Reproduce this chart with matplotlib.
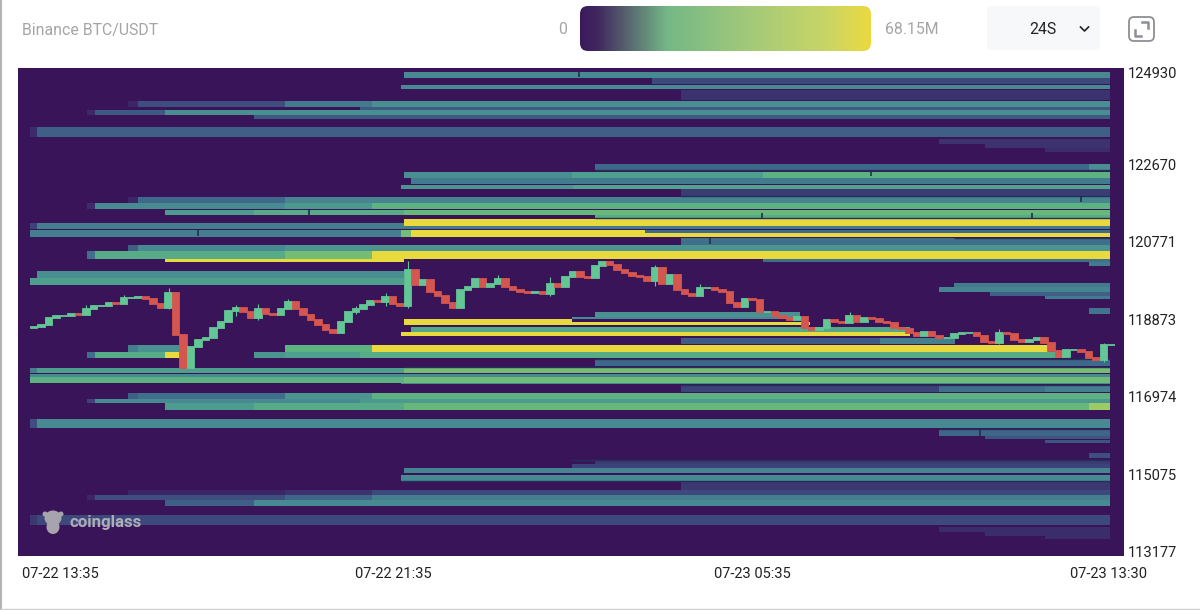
import numpy as np
import matplotlib
matplotlib.use("Agg")
import matplotlib.pyplot as plt
from matplotlib.colors import LinearSegmentedColormap, Normalize
from matplotlib.patches import FancyBboxPatch, Ellipse
from matplotlib.transforms import ScaledTranslation

plt.rcParams["font.family"] = ["Roboto", "DejaVu Sans"]

# liquidation bands: price edges, start hours (since 07-22 13:35), value in M from that hour on
band_top = [
    124930, 124783, 124611, 124489, 124220, 124073, 124000, 123877, 123583, 123289, 123166, 123068,
    122677, 122481, 122334, 122162, 122064, 121869, 121722, 121550, 121428, 121330, 121232, 121158,
    121060, 120987, 120864, 120693, 120546, 120350, 120277, 120056, 119885, 119762, 119664, 119542,
    119444, 119150, 119052, 118930, 118881, 118807, 118685, 118563, 118416, 118245, 118073, 117877,
    117681, 117534, 117460, 117313, 117264, 117068, 116921, 116823, 116432, 116162, 116015, 115917,
    115599, 115427, 115330, 115231, 115060, 114889, 114693, 114570, 114448, 114081, 113787, 113665, 113567,
]
band_bottom = [
    124795, 124636, 124513, 124244, 124073, 124000, 123877, 123779, 123338, 123166, 123068, 122971,
    122530, 122334, 122187, 122064, 121893, 121722, 121575, 121428, 121354, 121158, 121085, 121085,
    120987, 120889, 120693, 120546, 120350, 120277, 120179, 119885, 119713, 119664, 119542, 119444,
    119370, 119003, 118930, 118881, 118807, 118734, 118563, 118465, 118270, 118073, 117926, 117730,
    117558, 117460, 117313, 117277, 117093, 116921, 116823, 116652, 116211, 116015, 115942, 115844,
    115476, 115330, 115231, 115109, 114913, 114693, 114570, 114448, 114301, 113836, 113665, 113567, 113493,
]
band_start = [
    [8.24], [13.76], [8.17], [14.41], [2.09, 2.32, 5.59, 7.53], [7.26], [1.18, 1.36, 2.92], [4.90],
    [-0.09, 0.07], [20.16], [21.18], [22.52],
    [12.49, 23.50], [8.24, 11.98, 16.24], [8.40], [8.17, 12.0], [14.41],
    [2.09, 2.32, 5.59], [1.18, 1.36, 5.59, 7.53], [2.92, 4.90, 8.24], [12.49], [8.24],
    [-0.09, 0.07, 8.24], [8.24],
    [-0.09, 8.17, 8.40, 13.61], [-0.09, 8.17, 8.40], [14.41], [2.09, 2.32, 5.59],
    [1.18, 1.36, 5.59, 7.53], [2.92, 8.24, 16.24], [23.50], [0.07, 8.24], [-0.09, 8.24],
    [20.49], [20.16], [21.29], [22.52], [23.50],
    [12.49, 17.06], [11.98, 17.06], [8.24, 11.98], [8.24, 17.28], [8.40, 19.51], [8.17, 19.51],
    [14.41, 18.84, 20.51], [2.09, 2.32, 3.30, 5.59, 7.53, 22.58],
    [1.18, 1.36, 2.92, 3.36, 4.90, 5.59, 7.26, 22.96], [12.49],
    [-0.09, 0.07, 8.24], [-0.09], [-0.09, 8.24], [8.17], [14.41, 20.16, 22.52],
    [2.09, 2.32, 5.59, 7.53], [1.18, 1.36, 7.26], [2.92, 4.90, 8.24, 23.50], [-0.09, 0.07],
    [20.16], [21.18], [22.52], [23.50],
    [12.49], [11.98], [8.24], [8.17], [14.41], [2.09, 5.59, 7.53], [1.18, 1.36, 5.59, 7.53],
    [2.92, 4.90], [-0.09, 0.07], [20.16], [21.18], [22.52],
]
band_value = [
    [27], [15], [27], [11], [8, 16, 24, 28], [18], [9, 18, 28], [18],
    [10, 19], [11], [11], [10],
    [21, 28], [28, 33, 38], [24], [30, 34], [13],
    [8, 21, 26], [10, 27, 31, 38], [32, 36, 40], [36], [62],
    [14, 25, 0], [24],
    [25, 42, 63, 21], [25, 42, 63], [22], [19, 27, 30],
    [22, 36, 42, 62], [60, 0, 22], [24], [28, 0], [33, 0],
    [24], [26], [19], [24], [23],
    [29, 0], [27, 0], [60, 0], [60, 0], [35, 0], [60, 0],
    [18, 25, 0], [25, 29, 0, 38, 62, 0],
    [22, 36, 60, 0, 30, 33, 36, 0], [21],
    [25, 33, 42], [27], [38, 41], [27], [14, 22, 25],
    [19, 22, 30, 38], [14, 27, 31], [32, 36, 40, 48], [16, 27],
    [20], [17], [17], [16],
    [13], [14], [26], [27], [12], [8, 11, 15], [8, 16, 20, 25],
    [19, 27], [12, 15], [10], [10], [10],
]

# thin dark lines between bands
divider_price = [122530, 121893, 121354, 120864, 117901, 117705, 117265, 116187, 115440, 114915]
divider_start = [12.49, 14.41, 12.49, 20.49, 12.49, 8.24, 14.41, 20.16, 11.98, 8.17]

# little dark notches where a level was hit
notch_hour = [12.14, 18.64, 23.32, 22.23, 3.65, 6.12, 16.21, 15.06, 21.07]
notch_price = [124881, 122456, 121820, 121403, 120987, 121484, 121403, 120791, 116089]

# 10 minute closes
closes = [
    118685, 118734, 118905, 118954, 118954, 119003, 118979, 119126, 119199, 119199,
    119273, 119248, 119395, 119395, 119420, 119370, 119248, 119150, 119517, 118489,
    117681, 118195, 118367, 118416, 118660, 118807, 119077, 119150, 119052, 118905,
    119126, 119003, 118979, 119126, 119297, 119126, 118979, 118856, 118734, 118612,
    118538, 118807, 119052, 119126, 119224, 119322, 119297, 119420, 119248, 119199,
    120081, 119713, 119836, 119542, 119444, 119273, 119150, 119591, 119664, 119861,
    119664, 119738, 119861, 119664, 119591, 119542, 119517, 119542, 119493, 119738,
    119664, 119910, 120032, 119910, 119885, 120179, 120277, 120204, 120081, 120007,
    119934, 119910, 119812, 120130, 119738, 119959, 119591, 119493, 119444, 119640,
    119640, 119591, 119542, 119273, 119175, 119370, 119346, 119052, 119052, 118954,
    118905, 118856, 118930, 118660, 118612, 118660, 118856, 118807, 118783, 118954,
    118807, 118905, 118881, 118807, 118783, 118660, 118636, 118538, 118465, 118563,
    118465, 118416, 118416, 118513, 118538, 118538, 118465, 118318, 118293, 118538,
    118513, 118367, 118318, 118367, 118416, 118293, 118097, 117950, 118122, 118122,
    118073, 117926, 117877, 118245, 118245,
]
first_open = 118660

wick_idx = [7, 12, 18, 27, 30, 34, 43, 47, 50, 62, 69, 83, 89, 109, 129, 143]
wick_high = [119230, 119470, 119640, 119230, 119250, 119380, 119200, 119520, 120300,
             119950, 119900, 120200, 119750, 119050, 118640, 118300]
wick_low = [119040, 119300, 119130, 118950, 118850, 119200, 119000, 119190, 119150,
            119790, 119450, 119700, 119500, 118830, 118260, 117830]

price_ticks = [124930, 122670, 120771, 118873, 116974, 115075, 113177]
time_ticks = [0, 8, 16, 23.92]
time_labels = ["07-22 13:35", "07-22 21:35", "07-23 05:35", "07-23 13:30"]

PURPLE = "#3a1458"
END_HOUR = 23.96
MAX_VALUE = 68.15

heat_cmap = LinearSegmentedColormap.from_list("heat", [
    (0 / MAX_VALUE, PURPLE),
    (10 / MAX_VALUE, "#3b2c6c"),
    (16 / MAX_VALUE, "#3e4f7f"),
    (21 / MAX_VALUE, "#3f6a8a"),
    (27 / MAX_VALUE, "#488a92"),
    (33 / MAX_VALUE, "#4f9f8e"),
    (38 / MAX_VALUE, "#5cb381"),
    (48 / MAX_VALUE, "#9ccb63"),
    (60 / MAX_VALUE, "#e8d93f"),
    (1, "#e8d93f"),
])
norm = Normalize(0, MAX_VALUE)

bar_cmap = LinearSegmentedColormap.from_list("bar", [
    (0, "#3a1a5c"), (0.06, "#41285f"), (0.3, "#74b886"), (0.6, "#a6ca78"), (0.85, "#c9d566"), (1, "#ecd93f"),
])

fig = plt.figure(figsize=(12, 6.1), dpi=100, facecolor="white")

# main heatmap area
ax = fig.add_axes([18 / 1200, 1 - 556 / 610, (1124 - 18) / 1200, 488 / 610], facecolor=PURPLE)

for top, bottom, starts, values in zip(band_top, band_bottom, band_start, band_value):
    ends = starts[1:] + [END_HOUR]
    for s, e, v in zip(starts, ends, values):
        if v == 0:
            continue
        ax.barh((top + bottom) / 2, e - s, left=s, height=top - bottom,
                color=heat_cmap(norm(v)), linewidth=0, zorder=2)

ax.hlines(divider_price, divider_start, END_HOUR, colors="#22305a", linewidth=1, zorder=2.5)
ax.vlines(notch_hour, np.array(notch_price) - 75, np.array(notch_price) + 75,
          colors="#1f2f50", linewidth=1.2, zorder=2.5)

# candles
closes = np.array(closes)
opens = np.concatenate([[first_open], closes[:-1]])
hours = np.arange(len(closes)) / 6
colors = np.where(closes >= opens, "#63c795", "#d5564f")
ax.vlines(hours[wick_idx], wick_low, wick_high, colors=colors[wick_idx], linewidth=0.8, zorder=3)
ax.bar(hours, np.abs(closes - opens), bottom=np.minimum(opens, closes), width=0.145,
       color=colors, linewidth=1.3, edgecolor=colors, zorder=4)

ax.set_xlim(-0.356, 24.276)
ax.set_ylim(113077, 125028)
ax.yaxis.tick_right()
ax.set_yticks(price_ticks)
ax.set_yticklabels([str(p) for p in price_ticks])
ax.set_xticks(time_ticks)
ax.set_xticklabels(time_labels)
ax.tick_params(axis="both", length=0, labelsize=10.5, labelcolor="#222222")
ax.tick_params(axis="y", pad=3)
ax.tick_params(axis="x", pad=8)
first_label = ax.get_xticklabels()[0]
first_label.set_ha("left")
first_label.set_transform(first_label.get_transform() + ScaledTranslation(-12 / 100, 0, fig.dpi_scale_trans))
for sp in ax.spines.values():
    sp.set_visible(False)

# page chrome in pixel coordinates
page = fig.add_axes([0, 0, 1, 1], zorder=5)
page.patch.set_alpha(0)

bar_box = FancyBboxPatch((580, 6), 291, 45, boxstyle="round,pad=0,rounding_size=8",
                         linewidth=0, facecolor="none")
page.add_patch(bar_box)
gradient = np.linspace(0, 1, 256).reshape(1, -1)
im = page.imshow(gradient, extent=[580, 871, 51, 6], cmap=bar_cmap, aspect="auto", zorder=1)
im.set_clip_path(bar_box)
page.set_xlim(0, 1200)
page.set_ylim(610, 0)
page.axis("off")

page.plot([0.5, 0.5], [0, 610], color="#b5b5b5", linewidth=1.5)
page.plot([0, 1200], [609, 609], color="#cfcfcf", linewidth=1)

page.text(22, 30, "Binance BTC/USDT", fontsize=11.4, color="#a5a5a5", va="center")
page.text(567, 30, "0", fontsize=11.4, color="#a5a5a5", va="center", ha="right")
page.text(885, 30, "68.15M", fontsize=11.4, color="#a5a5a5", va="center")

page.add_patch(FancyBboxPatch((987, 6), 113, 44, boxstyle="round,pad=0,rounding_size=6",
                              linewidth=0, facecolor="#f7f8fa"))
page.text(1043, 30, "24S", fontsize=11.4, color="#222222", va="center", ha="center")
page.plot([1080.5, 1084.5, 1088.5], [27, 31, 27], color="#222222", linewidth=1.2)

page.add_patch(FancyBboxPatch((1129, 17), 25, 24, boxstyle="round,pad=0,rounding_size=5",
                              linewidth=1.3, edgecolor="#8c8f94", facecolor="white"))
page.plot([1142, 1148, 1148], [22, 22, 28], color="#8c8f94", linewidth=1.8)
page.plot([1135, 1135, 1141], [30, 36, 36], color="#8c8f94", linewidth=1.8)

# watermark
for cx, cy, w, h in [(53, 518, 17, 15), (53, 527, 13, 14), (45, 514, 5, 5), (61, 514, 5, 5)]:
    page.add_patch(Ellipse((cx, cy), w, h, facecolor="#a8a4ae", edgecolor="none", zorder=6))
page.text(70, 522.5, "coinglass", fontsize=12.2, fontweight="bold", color="#b0acb6",
          va="center", zorder=6)

fig.savefig("out.png", dpi=100)
